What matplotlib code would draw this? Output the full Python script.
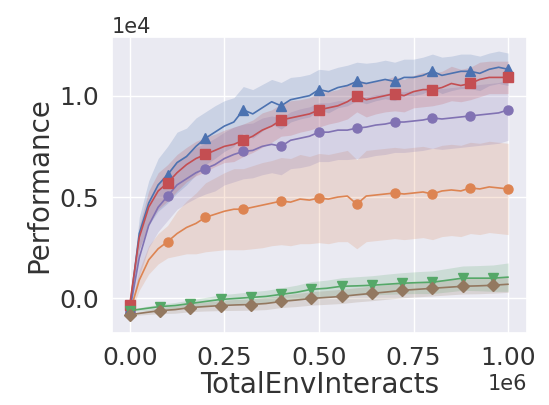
import numpy as np
import matplotlib
matplotlib.use('Agg')
import matplotlib.pyplot as plt
import seaborn as sns

sns.set_theme(style='darkgrid')

# interactions, logged every 25k for the first four runs, every 40k for the last two
steps_a = [i * 25000 for i in range(41)]
steps_b = [i * 40000 for i in range(26)]

blue = [-500, 3200, 4700, 5600, 6100, 6700, 7000, 7500, 7900, 8200, 8500, 8700, 9300, 9100,
        9400, 9700, 9500, 9800, 9900, 10000, 10300, 10200, 10400, 10500, 10700, 10600, 10700,
        10800, 10700, 10900, 10900, 11000, 11200, 11000, 11100, 11200, 11200, 11100, 11300,
        11400, 11300]
blue_sd = [100, 800, 1100, 1300, 1400, 1500, 1400, 1400, 1300, 1300, 1250, 1200, 1150, 1200,
           1150, 1100, 1150, 1100, 1050, 1050, 1000, 1050, 1000, 1000, 950, 1000, 950, 950,
           950, 900, 900, 900, 850, 900, 850, 850, 850, 850, 800, 800, 800]

red = [-300, 3000, 4500, 5300, 5700, 6200, 6600, 6900, 7100, 7300, 7500, 7600, 7800, 8000,
       8300, 8500, 8800, 8900, 9000, 9100, 9300, 9400, 9500, 9700, 10000, 9800, 9900, 10000,
       10100, 10000, 10200, 10300, 10300, 10400, 10600, 10500, 10600, 10800, 10900, 10900,
       10900]
red_sd = [100, 600, 800, 900, 900, 900, 850, 850, 850, 800, 800, 850, 800, 800, 850, 800, 800,
          850, 800, 800, 850, 800, 800, 850, 800, 850, 800, 800, 850, 800, 800, 850, 800, 800,
          850, 800, 800, 850, 800, 800, 800]

purple = [-600, 2000, 3600, 4500, 5050, 5600, 5900, 6200, 6400, 6600, 6900, 7100, 7250, 7300,
          7500, 7600, 7500, 7800, 7900, 8000, 8200, 8200, 8300, 8300, 8400, 8450, 8550, 8600,
          8700, 8700, 8750, 8800, 8900, 8850, 8900, 8950, 9000, 9050, 9100, 9150, 9300]
purple_sd = [100, 900, 1100, 1200, 1200, 1200, 1200, 1250, 1250, 1300, 1300, 1350, 1350, 1350,
             1400, 1400, 1400, 1400, 1450, 1450, 1450, 1450, 1450, 1450, 1500, 1500, 1500,
             1500, 1500, 1500, 1500, 1500, 1500, 1500, 1500, 1500, 1500, 1500, 1500, 1500,
             1500]

orange = [-700, 900, 1900, 2450, 2800, 3200, 3500, 3700, 4000, 4150, 4300, 4400, 4400, 4500,
          4600, 4700, 4800, 4750, 4900, 4850, 4950, 4900, 5000, 5050, 4650, 5050, 5100, 5150,
          5200, 5150, 5200, 5250, 5150, 5300, 5350, 5300, 5450, 5400, 5500, 5450, 5400]
orange_sd = [100, 500, 700, 750, 800, 1100, 1300, 1500, 1700, 1800, 1900, 2000, 2000, 2050,
             2100, 2100, 2150, 2150, 2200, 2150, 2200, 2200, 2200, 2250, 2200, 2250, 2250,
             2250, 2250, 2250, 2250, 2250, 2250, 2250, 2250, 2250, 2250, 2250, 2250, 2250,
             2250]

green = [-600, -500, -400, -350, -250, -150, -50, 0, 50, 100, 200, 300, 450, 500, 600, 620,
         650, 700, 750, 780, 800, 900, 1000, 1000, 1000, 1050]
green_sd = [50, 100, 120, 150, 180, 200, 230, 250, 280, 300, 320, 350, 380, 400, 420, 450,
            470, 500, 520, 540, 560, 580, 600, 620, 650, 700]

brown = [-800, -700, -600, -550, -450, -400, -350, -320, -300, -250, -150, -80, 0, 50, 100,
         180, 250, 320, 400, 450, 500, 550, 600, 620, 650, 700]
brown_sd = [50, 100, 150, 180, 200, 220, 250, 270, 280, 300, 300, 320, 330, 340, 350, 350,
            360, 360, 370, 370, 380, 380, 380, 390, 390, 400]

pal = sns.color_palette('deep')

# (steps, mean, sd, colour, marker, markevery)
runs = [
    (steps_a, orange, orange_sd, pal[1], 'o', 4),
    (steps_a, purple, purple_sd, pal[4], 'o', 4),
    (steps_a, blue, blue_sd, pal[0], '^', 4),
    (steps_a, red, red_sd, pal[3], 's', 4),
    (steps_b, green, green_sd, pal[2], 'v', 2),
    (steps_b, brown, brown_sd, pal[5], 'D', 2),
]

fig = plt.figure(figsize=(5.49, 4.05), dpi=100)
ax = fig.add_axes([0.204, 0.178, 0.756, 0.731])

for x, m, sd, c, mk, ev in runs:
    m = np.array(m)
    sd = np.array(sd)
    ax.fill_between(x, m - sd, m + sd, color=c, alpha=0.2, lw=0)
    ax.plot(x, m, color=c, lw=1.2, marker=mk, markersize=6.5, markevery=ev)

ax.set_xlim(-47000, 1050000)
ax.set_ylim(-1700, 12900)
ax.set_xticks([0, 250000, 500000, 750000, 1000000])
ax.set_yticks([0, 5000, 10000])
ax.ticklabel_format(style='sci', scilimits=(0, 0))
ax.tick_params(labelsize=18, labelcolor='#333333')
ax.xaxis.get_offset_text().set_fontsize(15)
ax.yaxis.get_offset_text().set_fontsize(15)
ax.set_xlabel('TotalEnvInteracts', fontsize=20, labelpad=1, color='#333333')
ax.set_ylabel('Performance', fontsize=20, color='#333333')

fig.savefig('out.png', dpi=100)
